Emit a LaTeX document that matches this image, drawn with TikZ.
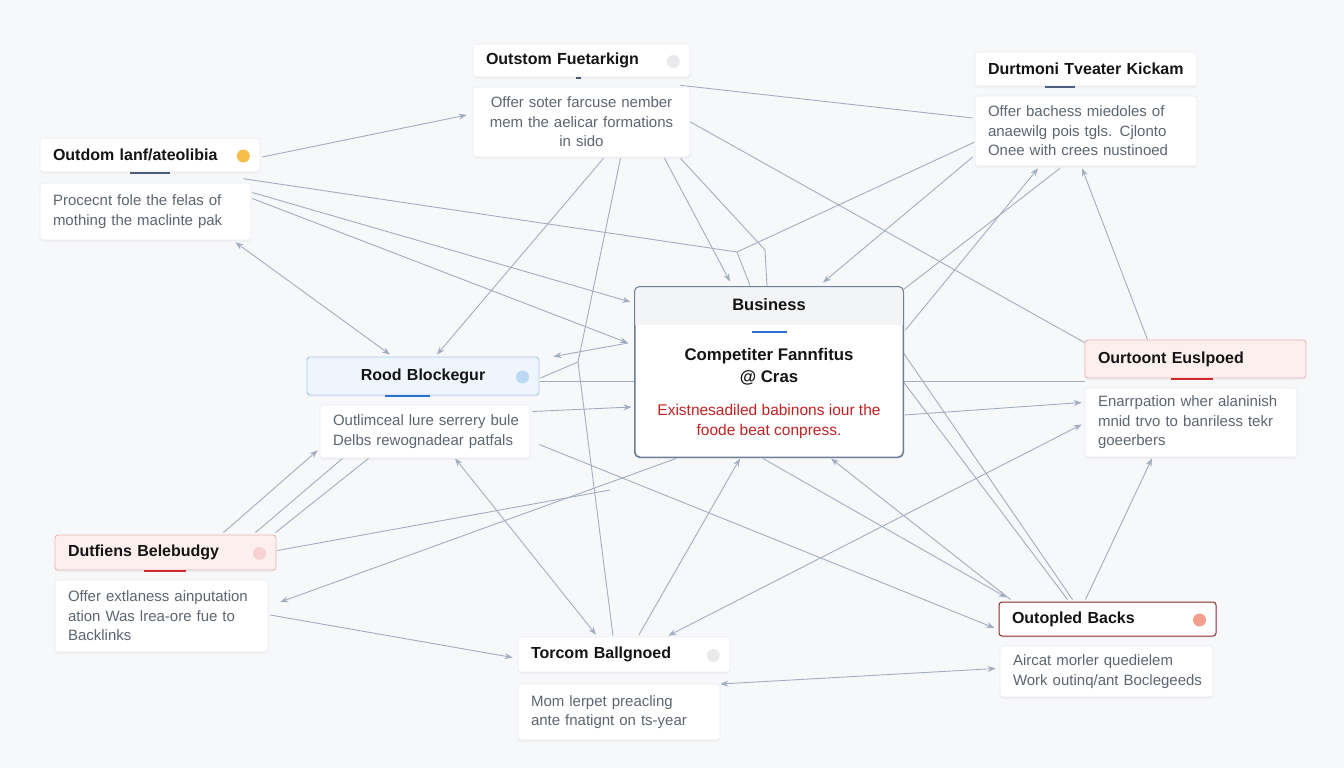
\documentclass[tikz,border=0pt]{standalone}
\usepackage{fontspec}
\setmainfont{Liberation Sans}
\usetikzlibrary{arrows.meta, calc, positioning, shadows}
\definecolor{cBg}{HTML}{F7F8FA}
\definecolor{cLink}{HTML}{A3ADBF}
\definecolor{cTxt}{HTML}{141414}
\definecolor{cSub}{HTML}{5E6572}
\definecolor{cEdge}{HTML}{E9EBEF}
\definecolor{cSlate}{HTML}{4B5C7C}
\definecolor{cBlue}{HTML}{2F6FD0}
\definecolor{cRed}{HTML}{CC2B2B}
\definecolor{cRedT}{HTML}{C42222}
\definecolor{cFrame}{HTML}{6F7F98}
\definecolor{cHead}{HTML}{F3F4F6}
\definecolor{cBlueL}{HTML}{EEF5FD}
\definecolor{cBlueE}{HTML}{A9CBEE}
\definecolor{cRedL}{HTML}{FDEFEE}
\definecolor{cRedE}{HTML}{EBB8B6}
\definecolor{cWine}{HTML}{8E2B2B}
\definecolor{cDotY}{HTML}{F6BF4A}
\definecolor{cDotG}{HTML}{EAEAEC}
\definecolor{cDotB}{HTML}{BDD8F4}
\definecolor{cDotP}{HTML}{F8D2D2}
\definecolor{cDotS}{HTML}{F4A08F}
\pgfdeclarelayer{bg}
\pgfsetlayers{bg,main}
\tikzset{
    card/.style={fill=white, draw=cEdge, line width=0.6pt, rounded corners=3pt,
                 inner xsep=13pt, inner ysep=3pt,
                 drop shadow={opacity=0.06, shadow xshift=0pt, shadow yshift=-2pt}},
    ttl/.style={card, align=left, text=cTxt,
                font=\fontsize{16}{19}\selectfont\bfseries},
    dsc/.style={card, align=left, text=cSub,
                font=\fontsize{15}{19.5}\selectfont},
    blu/.style={ttl, fill=cBlueL, draw=cBlueE, line width=0.9pt, align=center},
    pnk/.style={ttl, fill=cRedL, draw=cRedE, line width=0.9pt},
    wine/.style={ttl, draw=cWine, line width=1pt},
    hub/.style={fill=white, draw=cFrame, line width=1pt, rounded corners=5pt,
                drop shadow={opacity=0.07, shadow xshift=0pt, shadow yshift=-2pt}},
    dot/.style={circle, inner sep=0pt, minimum size=13pt},
    bar/.style={line width=2pt},
    ln/.style={draw=cLink, line width=0.9pt},
    lk/.style={ln, -{Stealth[length=8pt, width=6pt]}},
    both/.style={ln, {Stealth[length=8pt, width=6pt]}-{Stealth[length=8pt, width=6pt]}},
}

\begin{document}
\begin{tikzpicture}[x=1pt, y=-1pt]

\useasboundingbox (0,0) rectangle (1344,768);

% cards
\node[ttl, text width=194pt, minimum height=34pt] (ltt) at (150,155) {Outdom lanf/ateolibia};
\node[dsc, text width=185pt, minimum height=57pt] (ldsc) at (145.5,211.5) {Procecnt fole the felas of\\mothing the maclinte pak};

\node[ttl, text width=191pt, minimum height=33pt] (tpt) at (581.5,60.5) {Outstom Fuetarkign};
\node[dsc, text width=191pt, minimum height=70pt, align=center] (tpd) at (581.5,122) {Offer soter farcuse nember\\mem the aelicar formations\\in sido};

\node[ttl, text width=196pt, minimum height=34pt] (trt) at (1086,69) {Durtmoni Tveater Kickam};
\node[dsc, text width=196pt, minimum height=70pt] (trd) at (1086,131) {Offer bachess miedoles of\\anaewilg pois tgls. Cjlonto\\Onee with crees nustinoed};

\node[blu, text width=206pt, minimum height=38pt] (rbt) at (423,376) {Rood Blockegur};
\node[dsc, text width=184pt, minimum height=53pt] (rbd) at (425,431.5) {\mbox{Outlimceal lure serrery bule}\\Delbs rewognadear patfals};

\node[pnk, text width=195pt, minimum height=38pt] (rgt) at (1195.5,359) {Ourtoont Euslpoed};
\node[dsc, text width=186pt, minimum height=69pt] (rgd) at (1191,422.5) {Enarrpation wher alaninish\\mnid trvo to banriless tekr\\goeerbers};

\node[pnk, text width=195pt, minimum height=35pt] (dbt) at (165.5,552.5) {Dutfiens Belebudgy};
\node[dsc, text width=187pt, minimum height=72pt] (dbd) at (161.5,616) {Offer extlaness ainputation\\ation Was lrea-ore fue to\\Backlinks};

\node[ttl, text width=186pt, minimum height=35pt] (tbt) at (624,654.5) {Torcom Ballgnoed};
\node[dsc, text width=176pt, minimum height=56pt] (tbd) at (619,712) {Mom lerpet preacling\\ante fnatignt on ts-year};

\node[wine, text width=191pt, minimum height=34pt] (obt) at (1107.5,619) {Outopled Backs};
\node[dsc, text width=187pt, minimum height=51pt] (obd) at (1106.5,671.5) {Aircat morler quedielem\\\mbox{Work outinq/ant Boclegeeds}};

% central card
\node[hub, minimum width=268pt, minimum height=170pt] (biz) at (769,372) {};
\begin{scope}
  \clip[rounded corners=5pt] (biz.south west) rectangle (biz.north east);
  \fill[cHead] (biz.north west) rectangle ($(biz.north east)+(0,38)$);
\end{scope}
\draw[cFrame, line width=1pt, rounded corners=5pt] (biz.south west) rectangle (biz.north east);
\node[text=cTxt, font=\fontsize{16.5}{19}\selectfont\bfseries] (bizh) at (769,305) {Business};
\node[text=cTxt, align=center, font=\fontsize{16.8}{22}\selectfont\bfseries] (bizm) at (769,367) {Competiter Fannfitus\\@ Cras};
\node[text=cRedT, align=center, font=\fontsize{15.5}{20}\selectfont] (bizr) at (769,421) {Existnesadiled babinons iour the\\foode beat conpress.};
\draw[bar, cBlue] ($(biz.north)+(-17,45)$) -- ++(35,0);

\foreach \nm/\dx/\ll/\cc in {ltt/0/40/cSlate, tpt/-3/5/cSlate, trt/-26/30/cSlate,
    rbt/-16/45/cBlue, rgt/-4/42/cRed, dbt/-1/42/cRed}
    \draw[bar, draw=\cc] ($(\nm.south)+(\dx-\ll/2,1)$) -- ++(\ll,0);

\foreach \nm/\cc in {ltt/cDotY, tpt/cDotG, rbt/cDotB, dbt/cDotP, tbt/cDotG, obt/cDotS}
    \node[dot, fill=\cc] (\nm-d) at ($(\nm.east)+(-17,1)$) {};

% bends
\coordinate (j1) at (737,252);
\coordinate (j2) at (628,343);
\coordinate (j3) at (578,362);
\coordinate (j4) at (765,250);
\coordinate (j5) at (610,490);

\begin{pgfonlayer}{bg}
\fill[cBg] (0,0) rectangle (1344,768);

\draw[lk] ($(ltt.east)+(2,2)$) -- ($(tpd.west)+(-6,-7)$);
\draw[ln] ($(ldsc.north east)+(-8,-4)$) -- (j1) -- ($(trd.west)+(0,11)$);
\draw[ln] (j1) -- ($(biz.north)+(-19,-1)$);
\draw[lk] ($(ldsc.east)+(1,-19)$) -- ($(biz.west)+(-4,-70)$);
\draw[lk] ($(ldsc.east)+(1,-13)$) -- (j2);
\draw[lk] (j2) -- ($(rbt.north east)+(14,0)$);
\draw[both] ($(ldsc.south)+(90,2)$) -- ($(rbt.north)+(-33,-2)$);
\draw[lk] ($(tpd.south)+(22,1)$) -- ($(rbt.north)+(14,-2)$);
\draw[ln] ($(tpd.south)+(39,1)$) -- (j3) -- ($(tbt.north)+(-11,-1)$);
\draw[ln] ($(rbt.east)+(1,2)$) -- (j3);
\draw[ln] ($(rbt.east)+(1,5)$) -- ($(rgt.west)+(0,22)$);
\draw[lk] ($(rbd.east)+(2,-20)$) -- ($(biz.west)+(-3,35)$);
\draw[lk] ($(biz.east)+(1,43)$) -- ($(rgd.west)+(-3,-20)$);

\draw[ln] ($(tpt.south east)+(-10,8)$) -- ($(trd.west)+(-2,-13)$);
\draw[ln] ($(tpd.east)+(-7,-4)$) -- ($(rgt.north west)+(0,3)$);
\draw[lk] ($(tpd.south)+(83,1)$) -- ($(biz.north)+(-39,-5)$);
\draw[ln] ($(tpd.south)+(99,1)$) -- (j4) -- ($(biz.north)+(-2,0)$);
\draw[lk] ($(trd.west)+(-2,26)$) -- ($(biz.north)+(54,-4)$);
\draw[lk] ($(biz.east)+(2,-42)$) -- ($(trd.south)+(-48,2)$);
\draw[ln] ($(trd.south)+(-26,2)$) -- ($(biz.north east)+(0,3)$);
\draw[lk] ($(rgt.north)+(-48,0)$) -- ($(trd.south)+(-4,2)$);
\draw[both] ($(rgd.west)+(-3,2)$) -- ($(tbt.north east)+(-62,-1)$);

\draw[lk] ($(dbt.north)+(58,-2)$) -- ($(rbd.south west)+(-2,-8)$);
\draw[ln] ($(dbt.north)+(90,-2)$) -- ($(rbd.south west)+(23,0)$);
\draw[ln] ($(dbt.north)+(110,-2)$) -- ($(rbd.south west)+(49,0)$);
\draw[ln] ($(dbt.east)+(1,-2)$) -- (j5);
\draw[lk] ($(biz.south)+(-93,1)$) -- ($(dbd.east)+(12,-14)$);
\draw[lk] ($(dbd.east)+(2,-1)$) -- ($(tbt.west)+(-5,3)$);
\draw[both] ($(rbd.south)+(30,0)$) -- ($(tbt.north)+(-28,-2)$);
\draw[lk] ($(tbt.north)+(15,-2)$) -- ($(biz.south)+(-29,1)$);
\draw[lk] ($(rbd.east)+(9,13)$) -- ($(obt.west)+(-4,9)$);
\draw[lk] ($(biz.south)+(-6,1)$) -- ($(obt.north west)+(8,-4)$);
\draw[lk] ($(obt.north west)+(12,-2)$) -- ($(biz.south)+(62,1)$);
\draw[ln] ($(biz.east)+(0,10)$) -- ($(obt.north)+(-40,-2)$);
\draw[ln] ($(biz.east)+(0,-19)$) -- ($(obt.north)+(-35,-2)$);
\draw[lk] ($(obt.north)+(-22,-2)$) -- ($(rgd.south)+(-39,1)$);
\draw[both] ($(obd.west)+(-4,-3)$) -- ($(tbd.east)+(0,-28)$);
\end{pgfonlayer}

\end{tikzpicture}
\end{document}
